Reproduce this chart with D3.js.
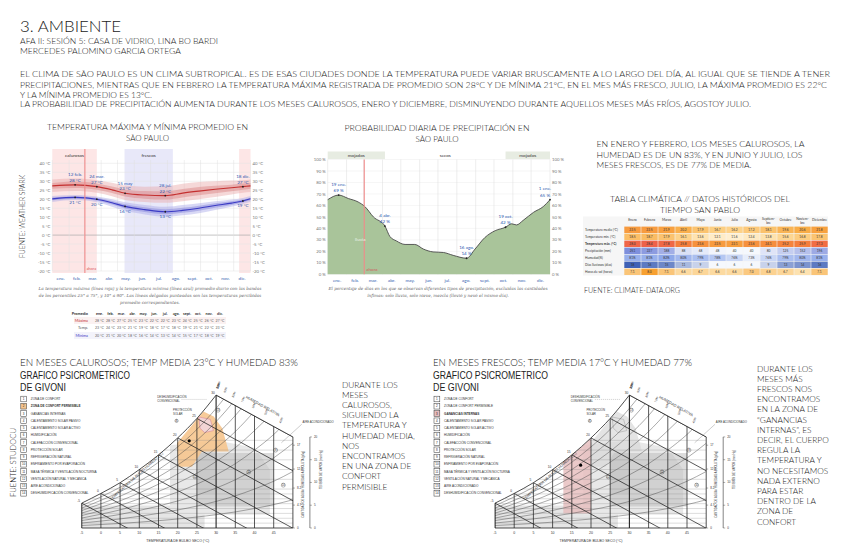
<!DOCTYPE html>
<html><head><meta charset="utf-8">
<script src="https://cdn.jsdelivr.net/npm/d3@7"></script>
<style>
body{margin:0;background:#fff;}
svg{display:block;font-family:Lato,"Open Sans",sans-serif;font-weight:300;}
.ch{font-weight:400;}
</style></head><body>
<svg id="c" width="848" height="559"></svg>
<script>
// ---------------- DATA ----------------
const monthLabels = ["ene.","feb.","mar.","abr.","may.","jun.","jul.","ago.","sept.","oct.","nov.","dic."];
const monthStartDays = [0,31,59,90,120,151,181,212,243,273,304,334,365];

// Temperature (Weather Spark) - day of year
const tempDays = [0,42,82,110,134,170,208,240,270,300,330,351,365];
const tMaxAvg  = [27.4,28.0,27.0,25.2,23.3,22.3,22.0,23.4,24.5,25.5,26.4,27.0,27.4];
const tMaxP90  = [31.0,31.5,30.6,29.2,27.6,27.0,27.2,28.6,29.6,30.0,30.4,30.6,31.0];
const tMaxP75  = [29.0,29.8,28.8,27.1,25.4,24.5,24.4,25.7,26.8,27.5,28.1,28.8,29.0];
const tMaxP25  = [25.8,26.3,25.3,23.5,21.5,20.3,19.8,21.0,22.2,23.3,24.4,25.3,25.8];
const tMaxP10  = [24.0,24.6,23.6,21.6,19.6,18.5,18.0,18.9,20.0,21.2,22.6,23.6,24.0];
const tMinAvg  = [20.2,21.0,20.0,18.0,16.0,14.2,13.0,13.8,15.0,16.5,17.8,19.0,20.2];
const tMinP90  = [21.8,22.4,21.5,20.0,18.3,16.8,15.8,16.8,17.8,18.8,19.8,20.7,21.8];
const tMinP75  = [21.0,21.7,20.8,19.0,17.2,15.5,14.4,15.2,16.4,17.7,18.8,19.8,21.0];
const tMinP25  = [19.4,20.3,19.2,17.0,14.8,12.9,11.6,12.4,13.6,15.3,16.8,18.2,19.4];
const tMinP10  = [18.5,19.5,18.3,15.8,13.5,11.5,10.2,11.0,12.2,14.0,15.8,17.3,18.5];
const tempSeasons = [{name:"calurosos",from:0,to:82,kind:"hot"},{name:"",from:344,to:365,kind:"hot"},{name:"frescos",from:133,to:222,kind:"cool"}];
const tMaxNotes = [{d:42,date:"12 feb.",v:"28 °C"},{d:82,date:"24 mar.",v:"27 °C"},{d:134,date:"15 may",v:"23 °C"},{d:208,date:"28 jul.",v:"22 °C"},{d:351,date:"18 dic.",v:"27 °C"}];
const tMinNotes = [{d:42,v:"21 °C"},{d:82,v:"20 °C"},{d:134,v:"16 °C"},{d:208,v:"13 °C"},{d:351,v:"19 °C"}];
const tempTicks = [40,35,30,25,20,15,10,5,0,-5,-10,-15,-20];
const nowDay = 60;

// Small monthly table (Weather Spark)
const smallRows = ["Máxima","Temp.","Mínima"];
const smallMax = [28,28,27,25,23,22,22,23,24,25,26,27];
const smallAvg = [23,24,23,21,19,18,17,18,19,21,22,23];
const smallMin = [20,21,20,18,16,14,13,14,15,17,18,19];

// Precipitation probability
const precDays = [0,18,34,50,61,75,94,102,113,127,143,157,173,190,206,228,242,258,275,292,302,310,321,338,354,365];
const precProb = [65,69,66,63,59,50,42,33,29,26,26,22,19.5,19,16.5,14,22,32,38,41,44,43,47,54,59,65];
const precSeasons = [{name:"mojados",from:0,to:94},{name:"mojados",from:292,to:365}];
const precNotes = [{d:18,date:"19 ene.",v:"69 %"},{d:94,date:"4 abr.",v:"42 %"},{d:228,date:"16 ago.",v:"14 %"},{d:292,date:"19 oct.",v:"42 %"},{d:365,date:"1 ene.",v:"65 %"}];
const precTicks = [100,90,80,70,60,50,40,30,20,10,0];

// Climate table (climate-data.org)
const climMonths = ["Enero","Febrero","Marzo","Abril","Mayo","Junio","Julio","Agosto","Septiem-bre","Octubre","Noviem-bre","Diciembre"];
const climRowNames = ["Temperatura media (°C)","Temperatura min. (°C)","Temperatura máx. (°C)","Precipitación (mm)","Humedad(%)","Días lluviosos (días)","Horas de sol (horas)"];
const climTMedia = [22.5,22.5,21.9,20.2,17.9,16.7,16.2,17.2,18.1,19.6,20.6,21.8];
const climTMin   = [18.5,18.7,17.9,16.1,13.6,12.1,11.6,12.4,13.8,15.6,16.8,17.8];
const climTMax   = [28.0,28.4,27.8,25.8,23.6,22.5,22.1,23.6,24.1,25.2,25.9,27.3];
const climPrec   = [251,227,188,88,68,48,40,40,80,125,152,196];
const climHum    = [81,81,82,80,79,78,76,73,76,79,80,81];
const climRain   = [18,16,15,11,9,6,6,6,9,13,14,16];
const climSun    = [7.1,8.0,7.1,6.6,6.7,6.6,6.6,7.0,6.8,6.7,6.4,7.1];

// Psychrometric chart (Givoni), chart units
const satT = [-5,0,5,10,15,20,25,30,35,40,45,50];
const satW = [5.1,7.1,9.3,12.0,15.0,18.5,22.5,27.3,33,40,48,58];
const topLineT = [30,50];
const topLineW = [27.3,18.7];
const dryBulbTicks = [-5,0,5,10,15,20,25,30,35,40,45];
const wetBulbT = [-5,0,5,10,15,20,25,30];
const rhLevels = [0.9,0.8,0.7,0.6,0.5,0.4,0.3,0.2,0.1];
const wLines = [1,2,3,4,5,6,7,8,10,12,14,16,18];
const zoneHeat = [[-5,0],[27,0],[27,4.6],[-5,4.6]];
const zoneLight = [[18,2.7],[44,2.7],[44,12],[40,16.5],[30,18],[18,17]];
const zoneDark = [[25,4.4],[45,4.4],[45,15.4],[25,15.4]];
const zoneMid = [[25,7.2],[30.2,7.2],[30.2,16],[25,16]];
const zonePermisible = [[19.8,17.4],[26.7,23.9],[29.4,22.9],[31.6,20.5],[33.3,15.7],[26.3,15.7],[23.7,12.6],[20.2,12.6]];
const zoneConfort = [[25.5,22.8],[28.5,22.3],[29.3,20],[27,19.6],[25.8,20.5]];
const zoneGanancias = [[12.8,3],[20,3],[20,18.5],[17.5,16.7],[15,15.0],[12.8,13.7]];
const hotPoint = [23.0,17.9];
const coolPoint = [17.3,12.9];
const givoniLegend = ["ZONA DE CONFORT","ZONA DE CONFORT PERMISIBLE","GANANCIAS INTERNAS","CALENTAMIENTO SOLAR PASIVO","CALENTAMIENTO SOLAR ACTIVO","HUMIDIFICACIÓN","CALEFACCIÓN CONVENCIONAL","PROTECCIÓN SOLAR","REFRIGERACIÓN NATURAL","ENFRIAMIENTO POR EVAPORACIÓN","MASA TÉRMICA Y VENTILACIÓN NOCTURNA","VENTILACIÓN NATURAL Y MECÁNICA","AIRE ACONDICIONADO","DESHUMIDIFICACIÓN CONVENCIONAL"];
const rhAxisLabels = ["100%","90%","80%","70%","60%","50%","40%","30%","20%"];
const wAxisTicks = [0,4.7,8.2,12.1,17];
const vpAxisTicks = [0,5,10,15,20];

// ---------------- HELPERS ----------------
const svg = d3.select("#c");
svg.append("rect").attr("width",848).attr("height",559).attr("fill","#fff");
function T(g,x,y,s,o={}){
  const t=g.append("text").attr("x",x).attr("y",y).text(s)
    .attr("font-size",o.fs||8).attr("fill",o.fill||"#222").attr("text-anchor",o.anchor||"start");
  if(o.ff) t.attr("font-family",o.ff);
  if(o.fw) t.attr("font-weight",o.fw);
  if(o.fst) t.attr("font-style",o.fst);
  if(o.len) t.attr("textLength",o.len).attr("lengthAdjust","spacingAndGlyphs");
  if(o.rot!=null) t.attr("transform",`rotate(${o.rot},${x},${y})`);
  return t;
}
const ARIAL = "'Liberation Sans',Arial,sans-serif";

// ---------------- HEADER ----------------
T(svg,20,32,"3. AMBIENTE",{fs:15,len:101});
T(svg,20,44,"AFA II: SESIÓN 5: CASA DE VIDRIO, LINA BO BARDI",{fs:7.5,len:198});
T(svg,20,54,"MERCEDES PALOMINO GARCIA ORTEGA",{fs:7.5,len:161});
T(svg,20,77,"EL CLIMA DE SÃO PAULO ES UN CLIMA SUBTROPICAL. ES DE ESAS CIUDADES DONDE LA TEMPERATURA PUEDE VARIAR BRUSCAMENTE A LO LARGO DEL DÍA, AL IGUAL QUE SE TIENDE A TENER",{fs:8,len:810});
T(svg,20,87.5,"PRECIPITACIONES, MIENTRAS QUE EN FEBRERO LA TEMPERATURA MÁXIMA REGISTRADA DE PROMEDIO SON 28°C Y DE MÍNIMA 21°C, EN EL MES MÁS FRESCO, JULIO, LA MÁXIMA PROMEDIO ES 22°C",{fs:8,len:807});
T(svg,20,97.5,"Y LA MÍNIMA PROMEDIO ES 13°C.",{fs:8,len:132});
T(svg,20,107,"LA PROBABILIDAD DE PRECIPITACIÓN AUMENTA DURANTE LOS MESES CALUROSOS, ENERO Y DICIEMBRE, DISMINUYENDO DURANTE AQUELLOS MESES MÁS FRÍOS, AGOSTOY JULIO.",{fs:8,len:731});

// ---------------- TEMPERATURE CHART ----------------
(function(){
  const g = svg.append("g").attr("class","ch");
  const x = d3.scaleLinear().domain([0,365]).range([52.3,250.5]);
  const y = d3.scaleLinear().domain([-20,40]).range([271,163.3]);
  const top=149, bot=273;
  T(svg,147.5,130,"TEMPERATURA MÁXIMA Y MÍNIMA PROMEDIO EN",{fs:8,anchor:"middle",len:201});
  T(svg,147.5,140.5,"SÃO PAULO",{fs:8,anchor:"middle"});
  T(svg,25,216.5,"FUENTE: WEATHER SPARK",{fs:8,anchor:"middle",rot:-90,len:83});
  tempSeasons.forEach(s=>{
    g.append("rect").attr("x",x(s.from)).attr("width",x(s.to)-x(s.from)).attr("y",top).attr("height",bot-top)
      .attr("fill",s.kind==="hot"?"#fde6e6":"#e8e8f9");
    if(s.name) T(g,(x(s.from)+x(s.to))/2,157,s.name,{fs:4.6,anchor:"middle",fill:"#333"});
  });
  tempTicks.forEach(t=>{
    g.append("line").attr("x1",x(0)).attr("x2",x(365)).attr("y1",y(t)).attr("y2",y(t))
      .attr("stroke",t===0?"#aaa":"#e2e2e2").attr("stroke-width",t===0?0.7:0.5);
    T(g,x(0)-2,y(t)+1.6,t+" °C",{fs:4.3,anchor:"end",fill:"#777"});
    T(g,x(365)+2,y(t)+1.6,t+" °C",{fs:4.3,fill:"#777"});
  });
  monthStartDays.forEach(d=>g.append("line").attr("x1",x(d)).attr("x2",x(d)).attr("y1",160).attr("y2",271).attr("stroke","#e0e0e0").attr("stroke-width",0.5));
  monthLabels.forEach((m,i)=>T(g,x((monthStartDays[i]+monthStartDays[i+1])/2),280,m,{fs:4.6,anchor:"middle",fill:"#3561b0"}));
  const area = (lo,hi)=>d3.area().curve(d3.curveMonotoneX).x((d,i)=>x(tempDays[i])).y0((d,i)=>y(lo[i])).y1((d,i)=>y(hi[i]))(tempDays);
  g.append("path").attr("d",area(tMaxP10,tMaxP90)).attr("fill","#e9a8a8").attr("opacity",0.45);
  g.append("path").attr("d",area(tMaxP25,tMaxP75)).attr("fill","#d98080").attr("opacity",0.45);
  g.append("path").attr("d",area(tMinP10,tMinP90)).attr("fill","#a8a8e9").attr("opacity",0.45);
  g.append("path").attr("d",area(tMinP25,tMinP75)).attr("fill","#8080d9").attr("opacity",0.45);
  const ln = arr=>d3.line().curve(d3.curveMonotoneX).x((d,i)=>x(tempDays[i])).y((d,i)=>y(arr[i]))(tempDays);
  g.append("path").attr("d",ln(tMaxAvg)).attr("fill","none").attr("stroke","#c43030").attr("stroke-width",1.1);
  g.append("path").attr("d",ln(tMinAvg)).attr("fill","none").attr("stroke","#3b3bc4").attr("stroke-width",1.1);
  g.append("line").attr("x1",x(nowDay)).attr("x2",x(nowDay)).attr("y1",top).attr("y2",bot).attr("stroke","#f08a8a").attr("stroke-width",1.1);
  T(g,x(nowDay)+1.5,270,"ahora",{fs:4,fill:"#e06060"});
  const maxI = d3.scaleLinear().domain(tempDays).range(tMaxAvg);
  const minI = d3.scaleLinear().domain(tempDays).range(tMinAvg);
  tMaxNotes.forEach(n=>{
    const yy=y(maxI(n.d));
    g.append("circle").attr("cx",x(n.d)).attr("cy",yy).attr("r",0.9).attr("fill","#222");
    T(g,x(n.d),yy-8.5,n.date,{fs:4.6,anchor:"middle",fill:"#2b59b0"});
    T(g,x(n.d),yy-3,n.v,{fs:4.6,anchor:"middle",fill:"#2b59b0"});
  });
  tMinNotes.forEach(n=>{
    const yy=y(minI(n.d));
    g.append("circle").attr("cx",x(n.d)).attr("cy",yy).attr("r",0.9).attr("fill","#222");
    T(g,x(n.d),yy+6.5,n.v,{fs:4.6,anchor:"middle",fill:"#2b59b0"});
  });
  const cap=["La temperatura máxima (línea roja) y la temperatura mínima (línea azul) promedio diario con las bandas","de los percentiles 25° a 75°, y 10° a 90°. Las líneas delgadas punteadas son las temperaturas percibidas","promedio correspondientes."];
  cap.forEach((c,i)=>T(g,150,290+i*7,c,{fs:4.2,anchor:"middle",fst:"italic",fill:"#666",ff:"'DejaVu Serif',serif"}));
  // small table
  const cx = d3.scaleLinear().domain([0,11]).range([99.5,220]);
  const rowsY=[320.5,328,335.5];
  g.append("rect").attr("x",74).attr("y",317).attr("width",152).attr("height",7).attr("fill","#fbf1f1");
  g.append("rect").attr("x",74).attr("y",332).attr("width",152).attr("height",7).attr("fill","#f3f3fb");
  T(g,88,315,"Promedio",{fs:3.8,anchor:"end",fw:"bold",fill:"#333"});
  monthLabels.forEach((m,i)=>T(g,cx(i),315,m,{fs:3.8,anchor:"middle",fw:"bold",fill:"#333"}));
  const rc=["#c43030","#555","#3b3bc4"];
  [smallMax,smallAvg,smallMin].forEach((arr,r)=>{
    T(g,88,rowsY[r]+1.3,smallRows[r],{fs:3.8,anchor:"end",fill:rc[r]});
    arr.forEach((v,i)=>T(g,cx(i),rowsY[r]+1.3,v+" °C",{fs:3.6,anchor:"middle",fill:"#666"}));
  });
})();

// ---------------- PRECIPITATION CHART ----------------
(function(){
  const g = svg.append("g").attr("class","ch");
  const x = d3.scaleLinear().domain([0,365]).range([327.7,550]);
  const y = d3.scaleLinear().domain([0,100]).range([274.3,159.5]);
  T(svg,437,131,"PROBABILIDAD DIARIA DE PRECIPITACIÓN EN",{fs:8,anchor:"middle",len:185});
  T(svg,437,141.5,"SÃO PAULO",{fs:8,anchor:"middle"});
  precSeasons.forEach(s=>{
    g.append("rect").attr("x",x(s.from)).attr("width",x(s.to)-x(s.from)).attr("y",151.5).attr("height",7.5).attr("fill","#e7ece2");
    T(g,(x(s.from)+x(s.to))/2,157,s.name,{fs:4.6,anchor:"middle",fill:"#333"});
  });
  T(g,(x(94)+x(292))/2,157,"secos",{fs:4.6,anchor:"middle",fill:"#333"});
  precTicks.forEach(t=>{
    g.append("line").attr("x1",x(0)).attr("x2",x(365)).attr("y1",y(t)).attr("y2",y(t)).attr("stroke","#ececec").attr("stroke-width",0.5);
    T(g,x(0)-2,y(t)+1.6,t+" %",{fs:4.3,anchor:"end",fill:"#777"});
    T(g,x(365)+2,y(t)+1.6,t+" %",{fs:4.3,fill:"#777"});
  });
  monthStartDays.forEach(d=>g.append("line").attr("x1",x(d)).attr("x2",x(d)).attr("y1",y(100)).attr("y2",y(0)).attr("stroke","#dcdcdc").attr("stroke-width",0.5));
  monthLabels.forEach((m,i)=>T(g,x((monthStartDays[i]+monthStartDays[i+1])/2),281.5,m,{fs:4.6,anchor:"middle",fill:"#3561b0"}));
  g.append("path").attr("d",d3.area().x((d,i)=>x(precDays[i])).y0(y(0)).y1((d,i)=>y(precProb[i])).curve(d3.curveMonotoneX)(precDays))
    .attr("fill","#a9c49a");
  g.append("path").attr("d",d3.line().x((d,i)=>x(precDays[i])).y((d,i)=>y(precProb[i])).curve(d3.curveMonotoneX)(precDays))
    .attr("fill","none").attr("stroke","#4a4a4a").attr("stroke-width",0.9);
  g.append("line").attr("x1",x(nowDay)).attr("x2",x(nowDay)).attr("y1",y(100)).attr("y2",y(0)).attr("stroke","#f08a8a").attr("stroke-width",1.1);
  T(g,x(nowDay)+2,271,"ahora",{fs:4.6,fill:"#d06060"});
  T(g,x(nowDay)-4,241,"lluvia",{fs:4.6,anchor:"middle",fill:"#eef3ea"});
  const pI = d3.scaleLinear().domain(precDays).range(precProb);
  precNotes.forEach(n=>{
    const yy=y(pI(n.d)), xx=x(n.d);
    g.append("circle").attr("cx",xx).attr("cy",yy).attr("r",0.9).attr("fill","#222");
    const ax = n.d>=360? xx-5 : xx;
    T(g,ax,yy-9.5,n.date,{fs:4.6,anchor:"middle",fill:"#2b59b0"});
    T(g,ax,yy-3,n.v,{fs:4.6,anchor:"middle",fill:"#2b59b0"});
  });
  T(g,438,290,"El porcentaje de días en los que se observan diferentes tipos de precipitación, excluidas las cantidades",{fs:4.2,anchor:"middle",fst:"italic",fill:"#666",ff:"'DejaVu Serif',serif"});
  T(g,438,297,"ínfimas: solo lluvia, solo nieve, mezcla (llovió y nevó el mismo día).",{fs:4.2,anchor:"middle",fst:"italic",fill:"#666",ff:"'DejaVu Serif',serif"});
})();

// ---------------- RIGHT TEXT + CLIMATE TABLE ----------------
(function(){
  const g = svg.append("g");
  T(g,596.5,147,"EN ENERO Y FEBRERO, LOS MESES CALUROSOS, LA",{fs:8,len:208});
  T(g,596.5,157.5,"HUMEDAD ES DE UN 83%, Y EN JUNIO Y JULIO, LOS",{fs:8,len:206});
  T(g,596.5,168,"MESES FRESCOS,  ES DE 77% DE MEDIA.",{fs:8,len:155});
  T(g,700,202,"TABLA CLIMÁTICA // DATOS HISTÓRICOS DEL",{fs:8,anchor:"middle",len:180});
  T(g,700,212.5,"TIEMPO SAN PABLO",{fs:8,anchor:"middle",len:80});
  const tg = g.append("g").attr("class","ch");
  const colX = d3.scaleBand().domain(d3.range(12)).range([624,828]);
  const rowY = d3.scaleBand().domain(d3.range(7)).range([226.3,275.3]);
  tg.append("rect").attr("x",583).attr("y",216.5).attr("width",245).attr("height",59).attr("fill","#f6f6f6");
  climMonths.forEach((m,i)=>{
    const parts=m.split("-");
    parts.forEach((p,k)=>T(tg,colX(i)+colX.bandwidth()/2,221+k*3.8-(parts.length>1?0.8:0),p+(k<parts.length-1?"-":""),{fs:3.3,anchor:"middle",fill:"#333"}));
  });
  const tempC = d3.scaleLinear().domain([11,16,21,26,29]).range(["#fff3d8","#fdd48c","#f8a840","#f47c3c","#ec5a4e"]);
  const rows = [
    {v:climTMedia,c:tempC,f:d=>d.toFixed(1)},
    {v:climTMin,c:tempC,f:d=>d.toFixed(1)},
    {v:climTMax,c:tempC,f:d=>d.toFixed(1)},
    {v:climPrec,c:d3.scaleLinear().domain([40,250]).range(["#f5f8fd","#7f8fdc"]),f:d=>d},
    {v:climHum,c:d3.scaleLinear().domain([73,82]).range(["#e6edfb","#8ea8ea"]),f:d=>d+"%"},
    {v:climRain,c:d3.scaleLinear().domain([6,18]).range(["#f5f8fd","#3f61b6"]),f:d=>d},
    {v:climSun,c:d3.scaleLinear().domain([6.4,8]).range(["#fde2b0","#f7a030"]),f:d=>d.toFixed(1)}
  ];
  rows.forEach((r,ri)=>{
    T(tg,585,rowY(ri)+rowY.bandwidth()/2+1.2,climRowNames[ri],{fs:3.2,fill:"#333",fw:ri===2?"bold":null});
    r.v.forEach((v,i)=>{
      tg.append("rect").attr("x",colX(i)+0.3).attr("y",rowY(ri)+0.3).attr("width",colX.bandwidth()-0.6).attr("height",rowY.bandwidth()-0.6).attr("fill",r.c(v));
      T(tg,colX(i)+colX.bandwidth()/2,rowY(ri)+rowY.bandwidth()/2+1.2,r.f(v),{fs:3.2,anchor:"middle",fill:"#333"});
    });
  });
  T(g,584,293,"FUENTE: CLIMATE-DATA.ORG",{fs:7.5,len:96});
})();

// ---------------- PSYCHROMETRIC CHARTS ----------------
function psychro(x0, lx, mode, pt, id){
  const g = svg.append("g").attr("class","ch");
  const x = d3.scaleLinear().domain([-5,50]).range([x0, x0+55*3.84]);
  const y = d3.scaleLinear().domain([0,30]).range([528, 528-30*4.87]);
  const satF = d3.scaleLinear().domain(satT).range(satW);
  const diag = d3.scaleLinear().domain(topLineT).range(topLineW);
  const lineM = d3.line().curve(d3.curveMonotoneX);
  const satPts = satT.filter(t=>t<=30).map(t=>[x(t),y(satF(t))]);
  const region = lineM(satPts)+`L${x(50)},${y(diag(50))}L${x(50)},${y(0)}L${x(-5)},${y(0)}Z`;
  g.append("clipPath").attr("id",id).append("path").attr("d",region);
  const c = g.append("g").attr("clip-path",`url(#${id})`);
  const poly = p=>"M"+p.map(d=>x(d[0])+","+y(d[1])).join("L")+"Z";
  c.append("path").attr("d",poly(zoneHeat)).attr("fill","#cfcfcf").attr("opacity",0.55);
  c.append("path").attr("d",poly(zoneLight)).attr("fill","#e8e8e8");
  c.append("path").attr("d",poly(zoneDark)).attr("fill","#b9b9b9").attr("opacity",0.5);
  c.append("path").attr("d",poly(zoneMid)).attr("fill","#bdbdbd").attr("opacity",0.4);
  c.append("path").attr("d",poly(zonePermisible)).attr("fill",mode==="hot"?"#f6c58e":"#d9d9d9").attr("opacity",mode==="hot"?0.9:0.7);
  if(mode==="cool") c.append("path").attr("d",poly(zoneGanancias)).attr("fill","#e6bcbc").attr("opacity",0.8);
  c.append("path").attr("d",poly(zoneConfort)).attr("fill",mode==="hot"?"#f3d5d5":"#e2e2e2").attr("stroke",mode==="hot"?"#d88aa0":"#aaa").attr("stroke-width",0.6);
  wLines.forEach(w=>c.append("line").attr("x1",x(-5)).attr("x2",x(50)).attr("y1",y(w)).attr("y2",y(w)).attr("stroke","#888").attr("stroke-width",0.3));
  rhLevels.forEach(r=>c.append("path").attr("d",lineM(satT.map(t=>[x(t),y(r*satF(t))]))).attr("fill","none").attr("stroke","#444").attr("stroke-width",0.45));
  const slope = (topLineW[1]-topLineW[0])/(topLineT[1]-topLineT[0]);
  wetBulbT.forEach(t=>{
    const w0=satF(t);
    c.append("line").attr("x1",x(t)).attr("y1",y(w0)).attr("x2",x(t+70)).attr("y2",y(w0+slope*70)).attr("stroke","#222").attr("stroke-width",0.75);
  });
  dryBulbTicks.forEach(t=>c.append("line").attr("x1",x(t)).attr("x2",x(t)).attr("y1",y(0)).attr("y2",y(30)).attr("stroke","#222").attr("stroke-width",t===30?1.1:0.75));
  g.append("path").attr("d",region).attr("fill","none").attr("stroke","#222").attr("stroke-width",0.8);
  g.append("circle").attr("cx",x(pt[0])).attr("cy",y(pt[1])).attr("r",1.6).attr("fill","#000");
  // axes text
  dryBulbTicks.forEach(t=>T(g,x(t),534,String(t),{fs:3.5,anchor:"middle",fill:"#333",ff:ARIAL}));
  T(g,x(20),542,"TEMPERATURA DE BULBO SECO (°C)",{fs:3.5,anchor:"middle",fill:"#333",ff:ARIAL});
  wetBulbT.forEach(t=>T(g,x(t)-3,y(satF(t))-1.5,String(t),{fs:3.2,anchor:"middle",fill:"#333",ff:ARIAL}));
  const xr = x(50);
  wAxisTicks.forEach(w=>{g.append("line").attr("x1",xr).attr("x2",xr+2).attr("y1",y(w)).attr("y2",y(w)).attr("stroke","#333").attr("stroke-width",0.4);
    T(g,xr+4,y(w)+1,String(w),{fs:3,fill:"#333",ff:ARIAL});});
  g.append("line").attr("x1",xr+17).attr("x2",xr+17).attr("y1",y(diag(50))).attr("y2",y(0)).attr("stroke","#333").attr("stroke-width",0.6);
  vpAxisTicks.forEach(v=>{const yy=y(0)-(y(0)-y(diag(50)))*v/20; g.append("line").attr("x1",xr+17).attr("x2",xr+19).attr("y1",yy).attr("y2",yy).attr("stroke","#333").attr("stroke-width",0.4);
    T(g,xr+21,yy+1,String(v),{fs:3,fill:"#333",ff:ARIAL});});
  T(g,xr+11,y(9),"CANTIDAD DE AGUA / HUMEDAD ABSOLUTA (g/kg)",{fs:2.8,anchor:"middle",rot:-90,fill:"#333",ff:ARIAL});
  T(g,xr+29,y(12),"TENSIÓN DE VAPOR (mm Hg)",{fs:2.8,anchor:"middle",rot:-90,fill:"#333",ff:ARIAL});
  T(g,x(9.5),y(satF(9.5))+6,"TEMPERATURA DE BULBO HUMEDO (°C)",{fs:3.6,anchor:"middle",rot:-42,fill:"#333",ff:ARIAL});
  T(g,x(42),y(diag(42))-13,"HUMEDAD RELATIVA",{fs:3.8,anchor:"middle",rot:29,fill:"#333",ff:ARIAL});
  const rhAll=[1].concat(rhLevels.slice(0,8));
  rhAll.forEach((r,i)=>{
    let tt=30; for(let t=30;t<=50;t+=0.1){ if(r===1) break; if(r*satF(t)>=diag(t)){tt=t;break;} }
    const px=x(tt)+2, py=y(diag(tt))-6;
    T(g,px,py,rhAxisLabels[i],{fs:3,anchor:"start",rot:-70,fill:"#333",ff:ARIAL});
  });
  T(g,x(14.7),y(26.7),"DESHUMIDIFICACIÓN",{fs:2.8,fill:"#333",ff:ARIAL});
  T(g,x(14.7),y(25.9),"CONVENCIONAL",{fs:2.8,fill:"#333",ff:ARIAL});
  g.append("line").attr("x1",x(21)).attr("y1",y(26.4)).attr("x2",x(27.5)).attr("y2",y(26.4)).attr("stroke","#555").attr("stroke-width",0.3).attr("stroke-dasharray","1,1");
  T(g,x(18.8),y(24),"PROTECCIÓN",{fs:2.8,fill:"#333",ff:ARIAL});
  T(g,x(18.8),y(23.3),"SOLAR",{fs:2.8,fill:"#333",ff:ARIAL});
  g.append("circle").attr("cx",x(19.7)).attr("cy",y(22)).attr("r",1.6).attr("fill","none").attr("stroke","#333").attr("stroke-width",0.4);
  T(g,x(19.7),y(22)+1,"8",{fs:2.6,anchor:"middle",ff:ARIAL});
  T(g,x(52.5),y(21.6),"AIRE ACONDICIONADO",{fs:2.8,fill:"#333",ff:ARIAL});
  g.append("line").attr("x1",x(52.3)).attr("y1",y(21.3)).attr("x2",x(47)).attr("y2",y(17.5)).attr("stroke","#555").attr("stroke-width",0.3);
  [[30.5,24.2,"13"],[45.5,16,"9"],[47.5,8.8,"10"],[38.5,11.5,"11"],[24.5,10.5,"12"]].forEach(d=>{
    g.append("circle").attr("cx",x(d[0])).attr("cy",y(d[1])).attr("r",2).attr("fill","none").attr("stroke","#444").attr("stroke-width",0.4);
    T(g,x(d[0]),y(d[1])+1,d[2],{fs:2.6,anchor:"middle",fill:"#333",ff:ARIAL});
  });
  const ly = d3.scaleLinear().domain([0,13]).range([399,493.3]);
  givoniLegend.forEach((s,i)=>{
    const hi = (mode==="hot"&&i===1)||(mode==="cool"&&i===2);
    g.append("rect").attr("x",lx).attr("y",ly(i)-2.8).attr("width",5.8).attr("height",5.6)
      .attr("fill",hi?(mode==="hot"?"#f6c58e":"#e6bcbc"):"#fff").attr("stroke","#333").attr("stroke-width",0.5);
    T(g,lx+2.9,ly(i)+1,String(i+1),{fs:3,anchor:"middle",fill:"#222",ff:ARIAL});
    T(g,lx+10,ly(i)+1,s,{fs:3.1,fill:"#333",fw:hi?"bold":null,ff:ARIAL});
  });
}

// Lower left
T(svg,20,366,"EN MESES CALUROSOS; TEMP MEDIA 23°C Y HUMEDAD 83%",{fs:10,len:278});
T(svg,20,378.5,"GRAFICO PSICROMETRICO",{fs:10,ff:ARIAL,fw:400,len:110});
T(svg,20,390.5,"DE GIVONI",{fs:10,ff:ARIAL,fw:400,len:46});
T(svg,16,462.5,"FUENTE: STUDOCU",{fs:7.5,anchor:"middle",rot:-90,len:69});
psychro(81.7,20.8,"hot",hotPoint,"clipHot");
["DURANTE LOS","MESES","CALUROSOS,","SIGUIENDO LA","TEMPERATURA Y","HUMEDAD MEDIA,","NOS","ENCONTRAMOS","EN UNA ZONA DE","CONFORT","PERMISIBLE"]
  .forEach((s,i)=>T(svg,342,387.5+i*10.2,s,{fs:8.3}));

// Lower right
T(svg,433,366,"EN MESES FRESCOS; TEMP MEDIA 17°C Y HUMEDAD 77%",{fs:10,len:259});
T(svg,433,378.5,"GRAFICO PSICROMETRICO",{fs:10,ff:ARIAL,fw:400,len:115});
T(svg,433,390.5,"DE GIVONI",{fs:10,ff:ARIAL,fw:400,len:46});
psychro(495,434,"cool",coolPoint,"clipCool");
["DURANTE LOS","MESES MÁS","FRESCOS NOS","ENCONTRAMOS","EN LA ZONA DE","\u201CGANANCIAS","INTERNAS\u201D, ES","DECIR, EL CUERPO","REGULA LA","TEMPERATURA Y","NO NECESITAMOS","NADA EXTERNO","PARA ESTAR","DENTRO DE LA","ZONA DE","CONFORT"]
  .forEach((s,i)=>T(svg,757,371.5+i*10.2,s,{fs:8.3}));
</script>
</body></html>
